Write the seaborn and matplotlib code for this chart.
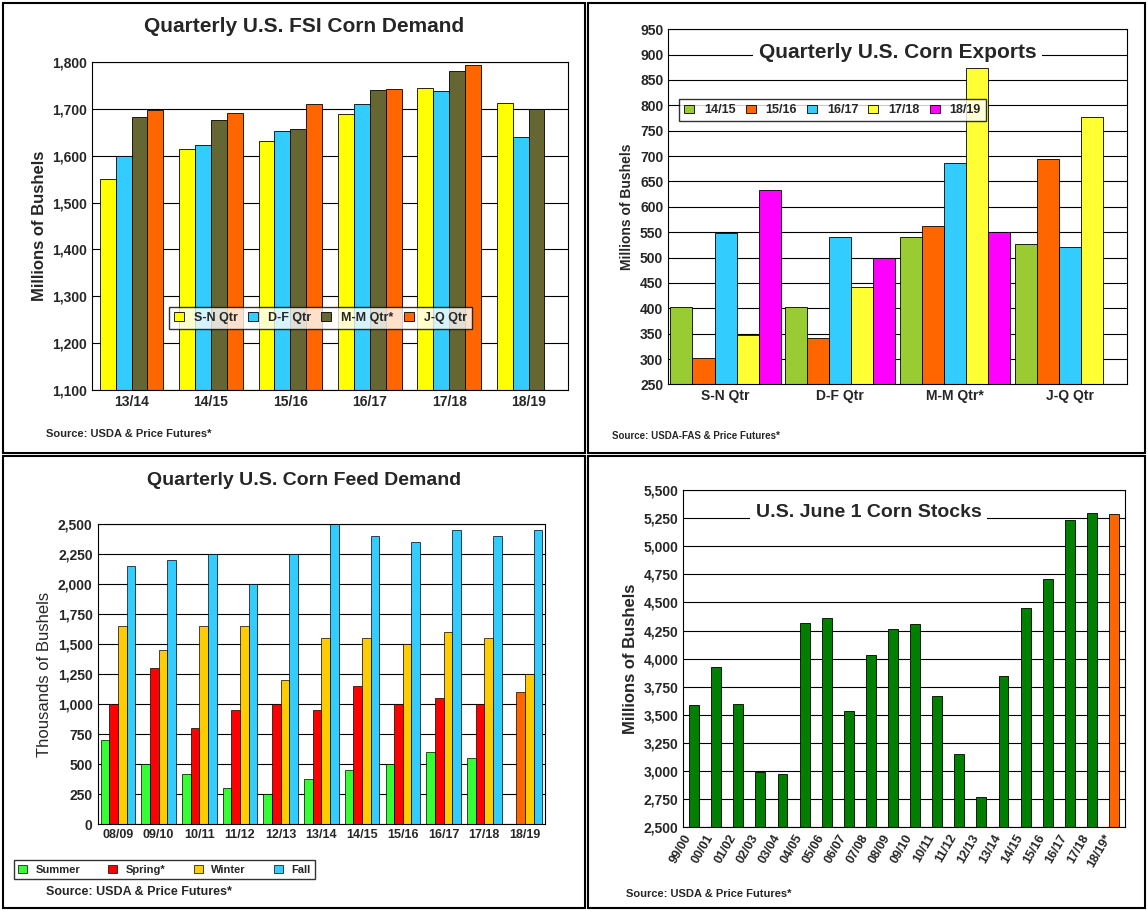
import matplotlib
matplotlib.use("Agg")
import matplotlib.pyplot as plt
import seaborn as sns
import pandas as pd
import numpy as np
from matplotlib.ticker import FuncFormatter, MultipleLocator
from matplotlib.patches import Rectangle

sns.set_theme(style="white")
plt.rcParams['font.family'] = ['Liberation Sans', 'DejaVu Sans']

# Panel 1
fsi_years = ["13/14", "14/15", "15/16", "16/17", "17/18", "18/19"]
fsi_series = ["S-N Qtr", "D-F Qtr", "M-M Qtr*", "J-Q Qtr"]
fsi_sn = [1550, 1615, 1632, 1688, 1745, 1712]
fsi_df = [1600, 1622, 1653, 1710, 1737, 1640]
fsi_mm = [1683, 1676, 1656, 1740, 1780, 1700]
fsi_jq = [1697, 1690, 1710, 1743, 1793, np.nan]
fsi_colors = ["#FFFF00", "#33CCFF", "#666633", "#FF6600"]

# Panel 2
exp_qtrs = ["S-N Qtr", "D-F Qtr", "M-M Qtr*", "J-Q Qtr"]
exp_series = ["14/15", "15/16", "16/17", "17/18", "18/19"]
exp_1415 = [402, 402, 541, 527]
exp_1516 = [302, 342, 563, 695]
exp_1617 = [548, 541, 687, 521]
exp_1718 = [348, 442, 873, 777]
exp_1819 = [633, 500, 550, np.nan]
exp_colors = ["#99CC33", "#FF6600", "#33CCFF", "#FFFF33", "#FF00FF"]

# Panel 3
feed_years = ["08/09", "09/10", "10/11", "11/12", "12/13", "13/14", "14/15", "15/16", "16/17", "17/18", "18/19"]
feed_series = ["Summer", "Spring*", "Winter", "Fall"]
feed_summer = [700, 500, 420, 300, 250, 380, 450, 500, 600, 550, np.nan]
feed_spring = [1000, 1300, 800, 950, 1000, 950, 1150, 1000, 1050, 1000, 1100]
feed_winter = [1650, 1450, 1650, 1650, 1200, 1550, 1550, 1500, 1600, 1550, 1250]
feed_fall = [2150, 2200, 2250, 2000, 2250, 2500, 2400, 2350, 2450, 2400, 2450]
feed_colors = ["#33FF33", "#FF0000", "#FFCC00", "#33CCFF"]

# Panel 4
stk_years = ["99/00", "00/01", "01/02", "02/03", "03/04", "04/05", "05/06", "06/07", "07/08", "08/09",
             "09/10", "10/11", "11/12", "12/13", "13/14", "14/15", "15/16", "16/17", "17/18", "18/19*"]
stk_vals = [3590, 3930, 3600, 2990, 2970, 4320, 4360, 3530, 4030, 4260,
            4310, 3670, 3150, 2770, 3850, 4450, 4710, 5230, 5300, 5290]

fig = plt.figure(figsize=(11.48, 9.11), dpi=100)
comma = FuncFormatter(lambda v, p: f"{int(v):,}")

for (x0, y0, w, h) in [(0.003, 0.503, 0.507, 0.494), (0.512, 0.503, 0.485, 0.494),
                       (0.003, 0.003, 0.507, 0.497), (0.512, 0.003, 0.485, 0.497)]:
    fig.patches.append(Rectangle((x0, y0), w, h, transform=fig.transFigure,
                                 fill=False, ec="black", lw=1.5))

def style(ax):
    ax.set_facecolor("white")
    ax.yaxis.grid(True, color="black", lw=0.8)
    ax.set_axisbelow(True)
    for s in ax.spines.values():
        s.set_color("black"); s.set_linewidth(0.8)
    ax.tick_params(axis='both', labelsize=10, length=0)
    for t in ax.get_xticklabels() + ax.get_yticklabels():
        t.set_fontweight("bold")

# Panel 1
df1 = pd.DataFrame({"year": np.repeat(fsi_years, 4), "s": fsi_series * 6,
                    "v": np.ravel(np.column_stack([fsi_sn, fsi_df, fsi_mm, fsi_jq]))})
ax1 = fig.add_axes([0.08, 0.572, 0.415, 0.36])
sns.barplot(data=df1, x="year", y="v", hue="s", palette=fsi_colors, ax=ax1,
            edgecolor="black", linewidth=0.6, width=0.8, saturation=1)
ax1.set_ylim(1100, 1800); ax1.yaxis.set_major_locator(MultipleLocator(100))
ax1.yaxis.set_major_formatter(comma)
ax1.set_xlabel(""); ax1.set_ylabel("Millions of Bushels", fontsize=12, fontweight="bold")
ax1.legend(loc="center", bbox_to_anchor=(0.48, 0.22), ncol=4, fontsize=9, frameon=True,
           edgecolor="black", fancybox=False, handlelength=0.8, columnspacing=0.8,
           prop={"weight": "bold", "size": 9})
style(ax1)
fig.text(0.265, 0.965, "Quarterly U.S. FSI Corn Demand", ha="center", fontsize=15, fontweight="bold")
fig.text(0.04, 0.52, "Source: USDA & Price Futures*", fontsize=8, fontweight="bold")

# Panel 2
df2 = pd.DataFrame({"q": np.repeat(exp_qtrs, 5), "s": exp_series * 4,
                    "v": np.ravel(np.column_stack([exp_1415, exp_1516, exp_1617, exp_1718, exp_1819]))})
ax2 = fig.add_axes([0.582, 0.578, 0.4, 0.39])
sns.barplot(data=df2, x="q", y="v", hue="s", palette=exp_colors, ax=ax2,
            edgecolor="black", linewidth=0.6, width=0.96, saturation=1)
ax2.set_ylim(250, 950); ax2.yaxis.set_major_locator(MultipleLocator(50))
ax2.set_xlabel(""); ax2.set_ylabel("Millions of Bushels", fontsize=10, fontweight="bold")
ax2.legend(loc="upper left", bbox_to_anchor=(0.01, 0.82), ncol=5, frameon=True,
           edgecolor="black", fancybox=False, handlelength=0.8, columnspacing=0.8,
           prop={"weight": "bold", "size": 9})
style(ax2)
ax2.text(0.5, 0.96, "Quarterly U.S. Corn Exports", transform=ax2.transAxes, ha="center",
         va="top", fontsize=15, fontweight="bold",
         bbox=dict(fc="white", ec="none"))
fig.text(0.533, 0.518, "Source: USDA-FAS & Price Futures*", fontsize=7, fontweight="bold")

# Panel 3
df3 = pd.DataFrame({"year": np.repeat(feed_years, 4), "s": feed_series * 11,
                    "v": np.ravel(np.column_stack([feed_summer, feed_spring, feed_winter, feed_fall]))})
ax3 = fig.add_axes([0.085, 0.095, 0.39, 0.33])
sns.barplot(data=df3, x="year", y="v", hue="s", palette=feed_colors, ax=ax3,
            edgecolor="black", linewidth=0.5, width=0.85, saturation=1)
try:
    ax3.containers[1][len(feed_years) - 1].set_facecolor("#FF6600")
except Exception:
    pass
ax3.set_ylim(0, 2500); ax3.yaxis.set_major_locator(MultipleLocator(250))
ax3.yaxis.set_major_formatter(comma)
ax3.set_xlabel(""); ax3.set_ylabel("Thousands of Bushels", fontsize=12)
ax3.legend(loc="upper left", bbox_to_anchor=(-0.2, -0.1), ncol=4, frameon=True,
           edgecolor="black", fancybox=False, handlelength=0.8, columnspacing=2.5,
           prop={"weight": "bold", "size": 8})
style(ax3)
ax3.tick_params(axis='x', labelsize=9)
fig.text(0.265, 0.468, "Quarterly U.S. Corn Feed Demand", ha="center", fontsize=14, fontweight="bold")
fig.text(0.04, 0.018, "Source: USDA & Price Futures*", fontsize=9, fontweight="bold")

# Panel 4
df4 = pd.DataFrame({"year": stk_years, "v": stk_vals})
ax4 = fig.add_axes([0.595, 0.092, 0.385, 0.37])
pal4 = ["#008000"] * (len(stk_years) - 1) + ["#FF6600"]
sns.barplot(data=df4, x="year", y="v", hue="year", palette=pal4, legend=False, ax=ax4,
            edgecolor="black", linewidth=0.6, width=0.45, saturation=1)
ax4.set_ylim(2500, 5500); ax4.yaxis.set_major_locator(MultipleLocator(250))
ax4.yaxis.set_major_formatter(comma)
ax4.set_xlabel(""); ax4.set_ylabel("Millions of Bushels", fontsize=12, fontweight="bold")
style(ax4)
plt.setp(ax4.get_xticklabels(), rotation=60, ha="right", fontsize=9)
ax4.text(0.42, 0.96, "U.S. June 1 Corn Stocks", transform=ax4.transAxes, ha="center",
         va="top", fontsize=14, fontweight="bold", bbox=dict(fc="white", ec="none"))
fig.text(0.545, 0.015, "Source: USDA & Price Futures*", fontsize=8, fontweight="bold")

fig.savefig("out.png", dpi=100)
